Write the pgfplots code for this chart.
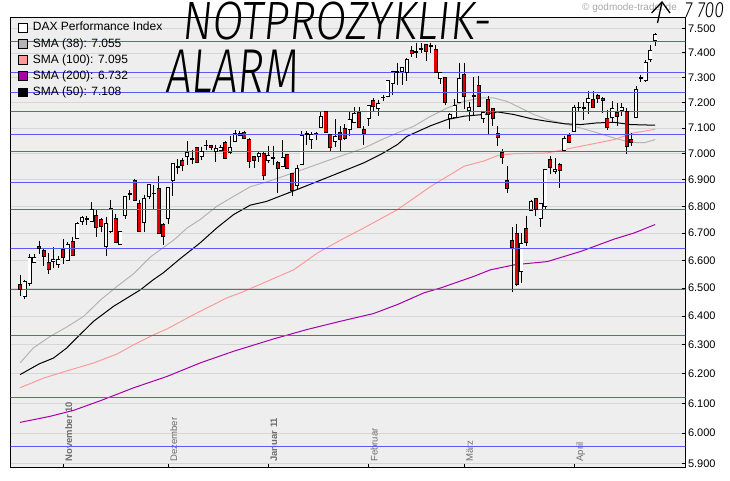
\documentclass[border=0pt]{standalone}
\usepackage{pgfplots}
\pgfplotsset{compat=1.18}
\usepackage{pgfplotstable}
\usepackage{fontspec}
\setmainfont{Liberation Sans}
\newfontfamily\hand{Fira Sans Light}[FakeSlant=0.12]
\definecolor{bg}{HTML}{EEEEEE}
\definecolor{gridc}{HTML}{D6D6D6}
\definecolor{smaA}{HTML}{B4B4B4}
\definecolor{smaB}{HTML}{FF9A9A}
\definecolor{smaC}{HTML}{A800A8}
\definecolor{bluel}{HTML}{5A5AF5}
\definecolor{candred}{HTML}{E00000}
\definecolor{xlab}{HTML}{6E6E6E}
\definecolor{wm}{HTML}{A8A8A8}

\pgfplotstableread{
i o h l c
0 6512 6548 6473 6494
1 6470 6530 6462 6524
2 6516 6625 6506 6612
3 6594 6625 6591 6609
4 6650 6672 6625 6643
5 6637 6646 6581 6615
6 6594 6627 6552 6569
7 6596 6648 6573 6603
8 6587 6615 6573 6605
9 6639 6679 6586 6609
10 6600 6666 6598 6657
11 6668 6686 6615 6619
12 6679 6740 6677 6738
13 6744 6763 6729 6757
14 6752 6763 6729 6754
15 6744 6815 6742 6790
16 6765 6787 6686 6723
17 6750 6757 6703 6725
18 6652 6760 6617 6738
19 6707 6822 6701 6793
20 6753 6773 6664 6666
21 6658 6707 6656 6705
22 6767 6839 6753 6837
23 6845 6860 6825 6847
24 6896 6903 6820 6822
25 6810 6825 6705 6707
26 6741 6844 6703 6829
27 6837 6883 6828 6881
28 6848 6881 6787 6850
29 6869 6913 6700 6701
30 6734 6736 6658 6688
31 6753 6873 6735 6871
32 6899 6963 6839 6961
33 6948 6980 6920 6950
34 6973 6984 6932 6956
35 6990 7048 6958 7005
36 6980 7016 6961 6982
37 7023 7025 6965 6968
38 6990 7026 6977 7009
39 7032 7051 7016 7034
40 7031 7035 7013 7025
41 7010 7035 6967 7019
42 7013 7035 7005 7026
43 7046 7048 6981 6983
44 7004 7070 6997 7023
45 7048 7091 7046 7081
46 7081 7090 7069 7070
47 7084 7090 7058 7060
48 7057 7059 6945 6970
49 6990 6992 6945 6975
50 6990 7012 6968 7000
51 7003 7005 6900 6916
52 6975 7031 6965 6993
53 6983 7031 6958 6985
54 6968 6970 6848 6943
55 6951 7052 6949 6986
56 6997 6999 6943 6945
57 6923 6925 6840 6860
58 6879 6958 6863 6945
59 6958 7087 6956 7071
60 7076 7087 7035 7078
61 7057 7083 7019 7077
62 7078 7083 7055 7080
63 7104 7166 7102 7146
64 7166 7168 7081 7083
65 7074 7076 7009 7025
66 7048 7133 7025 7067
67 7083 7109 7005 7057
68 7100 7116 7052 7061
69 7096 7166 7067 7133
70 7122 7183 7120 7159
71 7162 7183 7102 7104
72 7096 7109 7035 7081
73 7136 7190 7106 7188
74 7208 7219 7166 7185
75 7178 7212 7146 7196
76 7220 7232 7208 7222
77 7224 7290 7222 7288
78 7276 7328 7232 7326
79 7322 7360 7272 7324
80 7326 7345 7272 7343
81 7321 7378 7285 7376
82 7409 7430 7383 7400
83 7404 7441 7380 7406
84 7415 7441 7400 7417
85 7434 7436 7366 7407
86 7428 7441 7400 7430
87 7416 7434 7318 7320
88 7295 7323 7276 7321
89 7299 7301 7192 7199
90 7136 7159 7095 7153
91 7142 7215 7140 7188
92 7200 7361 7198 7296
93 7312 7360 7176 7226
94 7170 7204 7129 7183
95 7227 7302 7153 7229
96 7268 7308 7182 7184
97 7139 7164 7121 7162
98 7215 7225 7074 7155
99 7176 7178 7109 7136
100 7081 7109 7028 7064
101 7005 7019 6962 6984
102 6898 6952 6850 6866
103 6674 6723 6486 6648
104 6701 6735 6506 6512
105 6560 6701 6518 6661
106 6719 6765 6654 6666
107 6785 6825 6781 6818
108 6828 6830 6765 6787
109 6754 6812 6723 6810
110 6800 6941 6787 6939
111 6977 6990 6920 6947
112 6932 6984 6920 6941
113 6958 6965 6869 6936
114 7013 7070 7009 7061
115 7070 7080 7042 7044
116 7087 7192 7085 7183
117 7180 7201 7166 7182
118 7178 7201 7130 7180
119 7199 7248 7155 7219
120 7215 7245 7179 7181
121 7229 7236 7199 7217
122 7219 7224 7159 7207
123 7136 7172 7091 7104
124 7140 7205 7122 7179
125 7163 7199 7106 7146
126 7170 7199 7146 7183
127 7166 7179 6999 7029
128 7055 7081 7029 7042
129 7140 7265 7138 7252
130 7298 7312 7281 7300
131 7289 7370 7281 7362
132 7375 7434 7362 7409
133 7452 7482 7427 7478
}\dax

\begin{document}
\begin{tikzpicture}
\useasboundingbox (0,0) rectangle (730pt,481pt);
\begin{axis}[
  at={(10.7pt,13pt)}, anchor=south west,
  width=674.6pt, height=450pt, scale only axis,
  xmin=-1.95, xmax=139.3,
  ymode=log, ymin=5886.7, ymax=7545.6,
  axis background/.style={fill=bg},
  axis line style={black, line width=0.8pt},
  ytick={5900,6000,6100,6200,6300,6400,6500,6600,6700,6800,6900,7000,7100,7200,7300,7400,7500},
  yticklabels={5.900,6.000,6.100,6.200,6.300,6.400,6.500,6.600,6.700,6.800,6.900,7.000,7.100,7.200,7.300,7.400,7.500},
  yminorticks=false, xminorticks=false,
  ytick pos=right,
  yticklabel style={font=\fontsize{11}{13}\selectfont, anchor=west, inner sep=0pt, xshift=2.5pt},
  xtick={9,31,52,73,93,116},
  xticklabels={\textbf{November 10},Dezember,\textbf{Januar 11},Februar,März,April},
  xtick pos=left,
  xticklabel style={xshift=2pt, yshift=6pt, rotate=90, anchor=north west, inner sep=0pt, font=\fontsize{9.5}{11}\selectfont, text=xlab},
  tick align=inside,
  major tick length=3.5pt,
  tick style={black, line width=0.8pt},
  ymajorgrids,
  major grid style={gridc, line width=0.7pt},
  legend image code/.code={\draw[#1, draw=black, line width=0.6pt] (0pt,-4.3pt) rectangle (8.6pt,4.3pt);},
  legend cell align=left,
  legend style={at={(0,1)}, anchor=north west, xshift=4.3pt, yshift=-0.5pt, draw=none, fill=none,
    font=\fontsize{12}{14}\selectfont, row sep=1.6pt, column sep=4pt,
    nodes={inner sep=1.5pt, text height=9pt, text depth=2.5pt}},
]
\addlegendimage{fill=white}\addlegendentry{DAX Performance Index}
\addlegendimage{fill=smaA}\addlegendentry{SMA (38): 7.055}
\addlegendimage{fill=smaB}\addlegendentry{SMA (100): 7.095}
\addlegendimage{fill=smaC}\addlegendentry{SMA (200): 6.732}
\addlegendimage{fill=black}\addlegendentry{SMA (50): 7.108}

% moving averages
\addplot[smaC, line width=1pt, forget plot] coordinates {
(0,6036) (6.3,6056) (11.2,6076) (16.8,6108) (23.8,6152) (30.8,6191) (37.7,6237) (44.7,6277) (53.1,6320) (60.1,6353) (67.1,6382) (74,6409) (79,6441) (84.6,6483) (88,6500) (95,6542) (98.5,6566) (103.6,6584) (110.4,6596) (117.4,6633) (124.4,6678) (128.6,6701) (133,6732)};
\addplot[smaB, line width=1pt, forget plot] coordinates {
(0,6152) (4.9,6185) (9.8,6210) (15.4,6237) (20.3,6268) (23.8,6300) (28,6335) (30.8,6355) (36.3,6405) (43.3,6465) (46.2,6483) (51.7,6524) (57.3,6566) (62.2,6626) (67.3,6676) (72,6719) (79,6787) (86,6875) (93,6952) (97,6971) (100,6993) (103.4,7000) (110.4,7003) (117.4,7029) (124.4,7055) (128.6,7081) (133,7095)};
\addplot[smaA, line width=1pt, forget plot] coordinates {
(0,6237) (2.8,6289) (6.3,6329) (9.8,6362) (13.3,6399) (16.8,6457) (20.3,6506) (23.8,6552) (27.3,6612) (30,6647) (32.3,6676) (35,6719) (37.7,6750) (41.2,6800) (44.7,6837) (48.2,6873) (52,6894) (58.1,6932) (65,6977) (72,7022) (75.5,7052) (79,7081) (82.4,7106) (86,7146) (89.5,7179) (93,7205) (96.4,7219) (99.2,7219) (102,7205) (104.8,7179) (107.6,7153) (110.4,7133) (114,7117) (117.4,7100) (120.9,7081) (124.4,7061) (127.9,7044) (130.7,7042) (133,7055)};
\addplot[black, line width=1pt, forget plot] coordinates {
(0,6197) (4,6234) (7,6254) (9.8,6289) (11.9,6324) (15.4,6382) (19.6,6435) (25.2,6494) (27.9,6530) (30,6555) (33.5,6606) (37.7,6664) (41.2,6719) (44.7,6769) (48.2,6804) (51.6,6818) (58,6863) (65,6913) (72,6965) (75.5,6997) (79,7035) (81,7067) (86,7109) (89.5,7133) (93,7146) (97,7153) (100,7163) (103.4,7153) (107,7136) (110.4,7126) (114,7117) (117.4,7113) (120.9,7120) (124.4,7122) (127.9,7113) (133,7111)};

% candles: wicks
\addplot[draw=none, mark=none, forget plot,
  error bars/.cd, y dir=minus, y explicit, error mark=none,
  error bar style={draw=black, line width=0.85pt, solid}]
  table[x=i, y=h, y error minus expr={\thisrow{h}-\thisrow{l}}] {\dax};
% body outline (black, wide)
\addplot[draw=none, mark=none, forget plot,
  error bars/.cd, y dir=minus, y explicit, error mark=none,
  error bar style={draw=black, line width=4pt, solid}]
  table[x=i, y expr={max(\thisrow{o},\thisrow{c})}, y error minus expr={abs(\thisrow{c}-\thisrow{o})}] {\dax};
% white bodies
\addplot[draw=none, mark=none, forget plot,
  error bars/.cd, y dir=minus, y explicit, error mark=none,
  error bar style={draw=white, line width=2.6pt, solid}]
  table[x expr={\thisrow{c}>=\thisrow{o} ? \thisrow{i} : nan}, y expr={max(\thisrow{o},\thisrow{c})}, y error minus expr={abs(\thisrow{c}-\thisrow{o})}] {\dax};
% red bodies
\addplot[draw=none, mark=none, forget plot,
  error bars/.cd, y dir=minus, y explicit, error mark=none,
  error bar style={draw=candred, line width=2.6pt, solid}]
  table[x expr={\thisrow{c}<\thisrow{o} ? \thisrow{i} : nan}, y expr={max(\thisrow{o},\thisrow{c})}, y error minus expr={abs(\thisrow{c}-\thisrow{o})}] {\dax};
% top and bottom edges of bodies
\addplot[only marks, mark=-, mark size=2pt, mark options={draw=black, line width=0.7pt, solid}, forget plot]
  table[x=i, y=o] {\dax};
\addplot[only marks, mark=-, mark size=2pt, mark options={draw=black, line width=0.7pt, solid}, forget plot]
  table[x=i, y=c] {\dax};

% horizontal support / resistance lines
\addplot[bluel, line width=1pt, forget plot] coordinates {(-3,7445) (141,7445)};
\addplot[bluel, line width=1pt, forget plot] coordinates {(-3,7319) (141,7319)};
\addplot[bluel, line width=1pt, forget plot] coordinates {(-3,7239) (141,7239)};
\addplot[bluel, line width=1pt, forget plot] coordinates {(-3,7166) (141,7166)};
\addplot[bluel, line width=1pt, forget plot] coordinates {(-3,7073) (141,7073)};
\addplot[bluel, line width=1pt, forget plot] coordinates {(-3,7007) (141,7007)};
\addplot[bluel, line width=1pt, forget plot] coordinates {(-3,6889) (141,6889)};
\addplot[bluel, line width=1pt, forget plot] coordinates {(-3,6787) (141,6787)};
\addplot[bluel, line width=1pt, forget plot] coordinates {(-3,6642) (141,6642)};
\addplot[bluel, line width=1pt, forget plot] coordinates {(-3,6494) (141,6494)};
\addplot[bluel, line width=1pt, forget plot] coordinates {(-3,6331) (141,6331)};
\addplot[bluel, line width=1pt, forget plot] coordinates {(-3,6118) (141,6118)};
\addplot[bluel, line width=1pt, forget plot] coordinates {(-3,5955) (141,5955)};
\end{axis}

% handwritten annotations
\node[anchor=base west, inner sep=0pt, xscale=0.83, font=\hand\fontsize{54}{54}\selectfont] at (181pt,441pt) {NOTPROZYKLIK-};
\node[anchor=base west, inner sep=0pt, xscale=0.72, font=\hand\fontsize{62}{62}\selectfont] at (165pt,388pt) {ALARM};
\node[anchor=base west, inner sep=0pt, text=wm, font=\fontsize{10}{12}\selectfont] at (582pt,470pt) {© godmode-trader.de};
\draw[line width=1.3pt] (657.5pt,458pt) -- (662pt,479pt);
\draw[line width=1.3pt] (651.5pt,468pt) -- (662pt,479pt) -- (670pt,468pt);
\node[anchor=base west, inner sep=0pt, xscale=0.8, font=\hand\fontsize{22}{22}\selectfont] at (684pt,463pt) {7 700};
\end{tikzpicture}
\end{document}
